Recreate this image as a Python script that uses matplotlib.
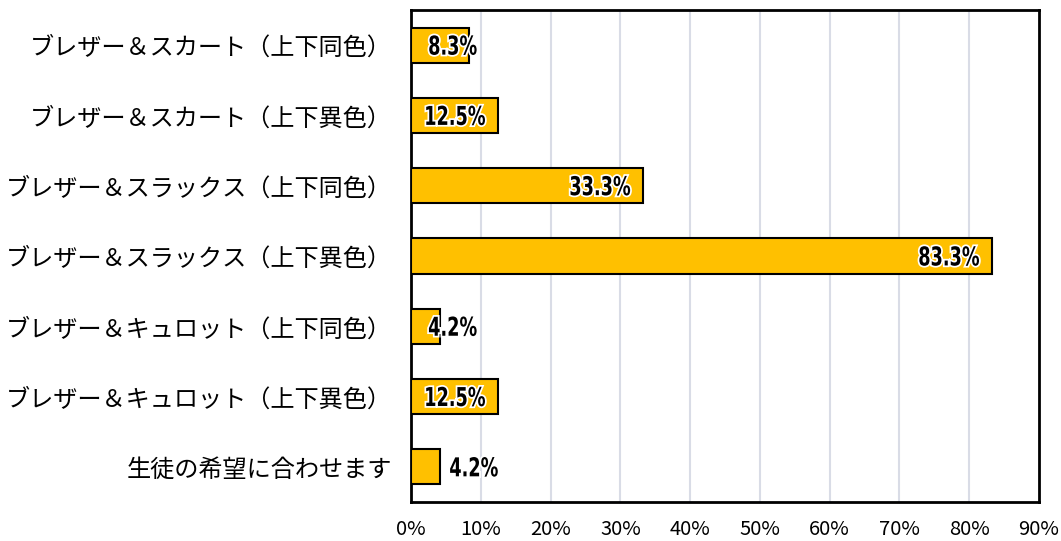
import matplotlib
matplotlib.use("Agg")
import matplotlib.pyplot as plt
import matplotlib.patheffects as pe
import matplotlib.transforms as mtransforms
from matplotlib.font_manager import FontProperties
from matplotlib.patches import PathPatch
from matplotlib.textpath import TextPath
from matplotlib.ticker import FuncFormatter

# データ
categories = [
    "ブレザー＆スカート（上下同色）",
    "ブレザー＆スカート（上下異色）",
    "ブレザー＆スラックス（上下同色）",
    "ブレザー＆スラックス（上下異色）",
    "ブレザー＆キュロット（上下同色）",
    "ブレザー＆キュロット（上下異色）",
    "生徒の希望に合わせます",
]
values = [8.3, 12.5, 33.3, 83.3, 4.2, 12.5, 4.2]
x_ticks = [0, 10, 20, 30, 40, 50, 60, 70, 80, 90]

BAR = "#FFC000"
GRID = "#D9DCE6"
JP = ["Noto Sans CJK JP", "DejaVu Sans"]

plt.rcParams["font.family"] = JP

fig = plt.figure(figsize=(10.61, 5.41), dpi=100)
ax = fig.add_axes([0.3874, 0.0721, 0.5919, 0.9094])

ypos = list(range(len(categories)))
ax.barh(ypos, values, height=0.5, color=BAR, edgecolor="black", linewidth=1.5, zorder=3)

ax.set_xlim(0, 90)
ax.set_ylim(len(categories) - 0.5, -0.5)
ax.set_xticks(x_ticks)
ax.xaxis.set_major_formatter(FuncFormatter(lambda v, p: f"{v:.0f}%"))
ax.set_yticks(ypos)
ax.set_yticklabels(categories, fontsize=17.4)
ax.tick_params(axis="x", labelsize=14.5, length=0, pad=12)
ax.tick_params(axis="y", length=0, pad=14)

for t in x_ticks[1:-1]:
    ax.axvline(t, color=GRID, lw=1.5, zorder=1)
for s in ax.spines.values():
    s.set_color("black")
    s.set_linewidth(2)


def label(x, y, s, ha):
    """太字・長体のデータラベル（白フチ付き）。単位はピクセル。"""
    tp = TextPath((0, 0), s, size=26, prop=FontProperties(family="DejaVu Sans", weight="bold"))
    bb = tp.get_extents()
    x0 = bb.x1 if ha == "right" else bb.x0
    tr = (mtransforms.Affine2D().translate(-x0, -(bb.y0 + bb.y1) / 2).scale(0.68, 1.0)
          + mtransforms.ScaledTranslation(x, y, ax.transData))
    patch = PathPatch(tp, transform=tr, facecolor="black", edgecolor="none", zorder=4,
                      path_effects=[pe.withStroke(linewidth=2.5, foreground="white")])
    ax.add_patch(patch)


# データラベル（内側端、入らない場合は外側）
for i, v in enumerate(values):
    if i == len(values) - 1:
        label(v + 1.4, i, f"{v:.1f}%", "left")
    else:
        label(max(v - 1.9, 9.4), i, f"{v:.1f}%", "right")

fig.savefig("out.png", dpi=100)
